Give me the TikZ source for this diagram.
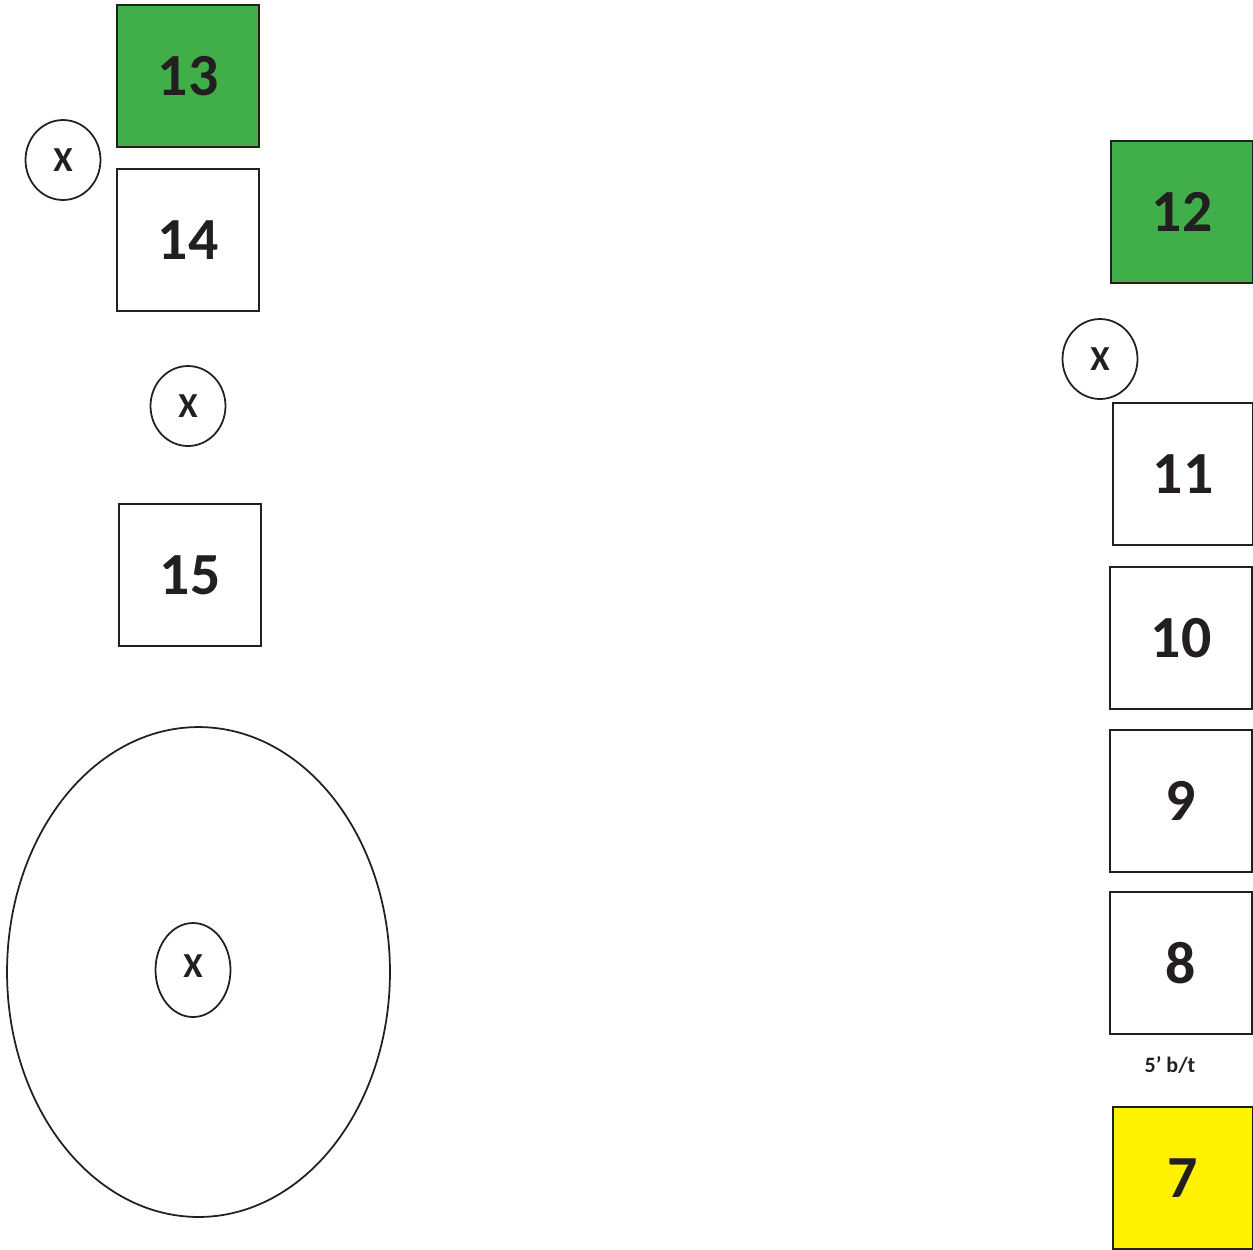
\documentclass[tikz,border=0pt]{standalone}
\usepackage{fontspec}
\setmainfont{Carlito}
\usetikzlibrary{shapes.geometric}
\definecolor{padgreen}{HTML}{40AE49}
\definecolor{padyellow}{HTML}{FFF200}
\definecolor{inkdark}{HTML}{231F20}

\begin{document}
\begin{tikzpicture}[
    x=0.02cm, y=-0.02cm,
    every node/.style={font=\bfseries, text=inkdark},
    padbox/.style={rectangle, draw=inkdark, line width=1.3pt, fill=white, minimum width=2.84cm, minimum height=2.84cm, inner sep=0pt, font=\bfseries\fontsize{34}{38}\selectfont},
    greenpad/.style={padbox, fill=padgreen},
    yellowpad/.style={padbox, fill=padyellow},
    xmark/.style={ellipse, draw=inkdark, line width=1pt, minimum width=1.5cm, minimum height=1.6cm, inner sep=0pt, font=\bfseries\fontsize{20}{22}\selectfont},
    ring/.style={ellipse, draw=inkdark, line width=1pt, minimum width=7.66cm, minimum height=9.8cm, inner sep=0pt},
    gaplabel/.style={font=\bfseries\fontsize{12.5}{14}\selectfont},
]
\useasboundingbox (0,0) rectangle (1253,1249);
% left column
\node[greenpad] (p13) at (188,76) {13};
\node[padbox] (p14) at (188,240) {14};
\node[padbox] (p15) at (190,575) {15};
\node[xmark] (x1) at (63,160) {X};
\node[xmark] (x2) at (188,406) {X};
% big circle
\node[ring] (pond) at (198.5,972) {};
\node[xmark, minimum height=1.88cm] (x4) at (193,970) {\raisebox{0.15cm}{X}};
% right column
\node[greenpad] (p12) at (1182,212) {12};
\node[xmark] (x3) at (1100,359) {X};
\node[padbox, minimum width=2.8cm] (p11) at (1183,474) {11};
\node[padbox] (p10) at (1181,638) {10};
\node[padbox] (p9) at (1181,801) {9};
\node[padbox] (p8) at (1181,963) {8};
\node[gaplabel] (gap) at (1170,1065) {5’ b/t};
\node[yellowpad, minimum width=2.8cm] (p7) at (1183,1178) {7};
\end{tikzpicture}
\end{document}
